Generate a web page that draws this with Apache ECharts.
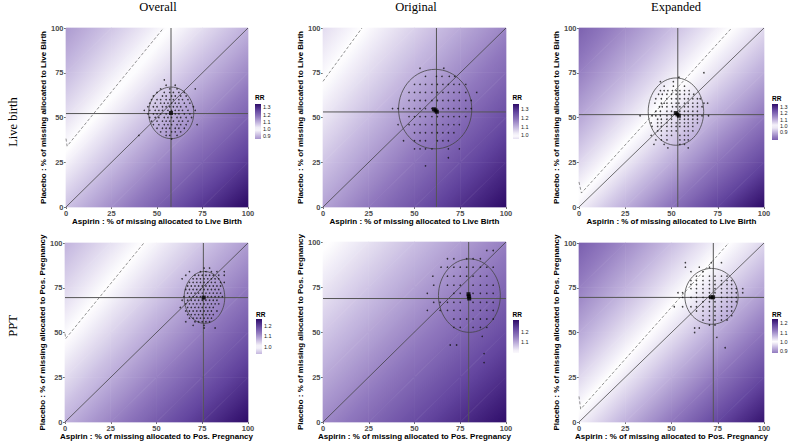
<!DOCTYPE html>
<html><head><meta charset="utf-8">
<script src="https://cdn.jsdelivr.net/npm/echarts@6/dist/echarts.min.js"></script>
<style>html,body{margin:0;padding:0;background:#fff}#c{width:789px;height:441px}</style>
</head><body><div id="c"></div>
<script>
// ---------------- DATA ----------------
const columnTitles = ['Overall', 'Original', 'Expanded'];
const rowTitles = ['Live birth', 'PPT'];
const xAxisTitles = ['Aspirin : % of missing allocated to Live Birth', 'Aspirin : % of missing allocated to Pos. Pregnancy'];
const yAxisTitles = ['Placebo : % of missing allocated to Live Birth', 'Placebo : % of missing allocated to Pos. Pregnancy'];
const axisTickValues = [0, 25, 50, 75, 100];
const nodeCoords = [0, 25, 50, 75, 100]; // RR surface nodes (x and y)

// RR read at nodes: rows y = 0,25,50,75,100 ; columns x = 0,25,50,75,100
const rrOverallLB = [
  [1.074, 1.143, 1.212, 1.281, 1.350],
  [1.015, 1.081, 1.147, 1.211, 1.276],
  [0.963, 1.025, 1.087, 1.149, 1.210],
  [0.916, 0.975, 1.033, 1.092, 1.151],
  [0.873, 0.929, 0.985, 1.041, 1.097]];
const rrOriginalLB = [
  [1.119, 1.179, 1.238, 1.298, 1.357],
  [1.073, 1.130, 1.188, 1.245, 1.302],
  [1.031, 1.086, 1.141, 1.196, 1.251],
  [0.992, 1.045, 1.098, 1.151, 1.204],
  [0.956, 1.007, 1.058, 1.109, 1.160]];
const rrExpandedLB = [
  [1.018, 1.101, 1.184, 1.267, 1.350],
  [0.949, 1.026, 1.103, 1.181, 1.258],
  [0.889, 0.961, 1.033, 1.106, 1.178],
  [0.835, 0.903, 0.971, 1.039, 1.107],
  [0.788, 0.852, 0.916, 0.981, 1.045]];
const rrOverallPPT = [
  [1.073, 1.122, 1.171, 1.219, 1.268],
  [1.033, 1.079, 1.126, 1.173, 1.220],
  [0.995, 1.040, 1.085, 1.130, 1.176],
  [0.960, 1.004, 1.047, 1.091, 1.134],
  [0.928, 0.970, 1.012, 1.054, 1.096]];
const rrOriginalPPT = [
  [1.140, 1.185, 1.230, 1.275, 1.320],
  [1.100, 1.143, 1.187, 1.230, 1.274],
  [1.063, 1.104, 1.146, 1.188, 1.230],
  [1.028, 1.068, 1.109, 1.149, 1.190],
  [0.995, 1.034, 1.074, 1.113, 1.152]];
const rrExpandedPPT = [
  [1.012, 1.069, 1.125, 1.182, 1.238],
  [0.965, 1.019, 1.073, 1.127, 1.181],
  [0.922, 0.974, 1.025, 1.077, 1.128],
  [0.883, 0.932, 0.982, 1.031, 1.080],
  [0.847, 0.894, 0.942, 0.989, 1.036]];

// legend (colour bar) ranges and labelled ticks
const legendRangeOverallLB = [0.865, 1.345];
const legendRangeOriginalLB = [0.96, 1.356];
const legendRangeExpandedLB = [0.78, 1.35];
const legendRangeOverallPPT = [0.93, 1.268];
const legendRangeOriginalPPT = [0.993, 1.323];
const legendRangeExpandedPPT = [0.878, 1.247];
const legendTicksOverallLB = [0.9, 1.0, 1.1, 1.2, 1.3];
const legendTicksOriginalLB = [1.0, 1.1, 1.2, 1.3];
const legendTicksExpandedLB = [0.9, 1.0, 1.1, 1.2, 1.3];
const legendTicksOverallPPT = [1.0, 1.1, 1.2];
const legendTicksOriginalPPT = [1.1, 1.2];
const legendTicksExpandedPPT = [0.9, 1.0, 1.1, 1.2];

// RR = 1 contour (dashed)
const contourOverallLB = [[0, 38.2], [0.6, 34], [53.6, 100]];
const contourOriginalLB = [[0, 70.2], [21.3, 100]];
const contourExpandedLB = [[0, 14], [1.3, 7.8], [82.5, 100]];
const contourOverallPPT = [[0, 49.4], [0.4, 46.6], [43.1, 100]];
const contourOriginalPPT = [];
const contourExpandedPPT = [[0, 14.3], [0.9, 7.2], [80.9, 100]];

// crosshair [x, y]
const crossOverallLB = [57.7, 52.2];
const crossOriginalLB = [62, 53.1];
const crossExpandedLB = [53.4, 51.6];
const crossOverallPPT = [75.6, 69.5];
const crossOriginalPPT = [79.6, 68.6];
const crossExpandedPPT = [72.6, 69.6];

// ellipse [cx, cy, rx, ry]
const ellipseOverallLB = [57.8, 52.6, 12.4, 14.4];
const ellipseOriginalLB = [61.3, 54.7, 20, 22.2];
const ellipseExpandedLB = [52.4, 53.3, 15, 18.8];
const ellipseOverallPPT = [76.2, 69.6, 11.1, 14.5];
const ellipseOriginalPPT = [80, 70.2, 16.9, 20.4];
const ellipseExpandedPPT = [71.6, 70.2, 14.4, 15.6];

// point estimates (big black points)
const centerOverallLB = [[57.7, 52.5]];
const centerOriginalLB = [[60.6, 54.6], [61.5, 54], [62.2, 53.2]];
const centerExpandedLB = [[52.3, 52.5], [53.2, 51.7], [54, 51]];
const centerOverallPPT = [[75.8, 69.5]];
const centerOriginalPPT = [[79.5, 71], [79.7, 69.8], [79.9, 68.6]];
const centerExpandedPPT = [[71.3, 69.7], [72.5, 69.7]];

// imputation points: [y, [x values]]
const ptsOverallLB = [
  [71, [54]],
  [68, [55, 60]],
  [66, [52, 57, 61, 71]],
  [64, [50, 54, 57, 59, 62, 65]],
  [62, [48, 53, 55, 58, 60, 63, 66]],
  [60, [47, 50, 52, 55, 57, 59, 62, 64, 67]],
  [58, [46, 49, 52, 54, 56, 58, 60, 62, 65, 68]],
  [56, [45, 48, 50, 53, 55, 57, 59, 61, 63, 66, 70]],
  [54, [43, 46, 49, 51, 53, 56, 58, 60, 62, 64, 67, 71]],
  [52, [45, 48, 50, 52, 55, 60, 62, 65, 68]],
  [50, [46, 49, 51, 54, 56, 58, 61, 63, 66, 69]],
  [48, [47, 50, 53, 55, 57, 59, 62, 64, 67]],
  [46, [48, 51, 54, 56, 58, 61, 63, 66, 72]],
  [44, [50, 53, 55, 57, 60, 62, 65]],
  [42, [52, 55, 58, 60, 63]],
  [40, [40, 55, 57, 61]],
  [38, [58]]];
const ptsOriginalLB = [
  [77.5, [53, 66]],
  [73, [56, 62, 65, 69, 72]],
  [68.5, [50, 53, 56, 59.5, 62.5, 65.5, 68.5, 71.5, 74.5, 78]],
  [64, [47, 50, 53, 56, 59.5, 62.5, 65.5, 68.5, 71.5, 74.5, 78, 84]],
  [59.5, [47, 50, 53, 56, 59.5, 62.5, 65.5, 68.5, 71.5, 74.5, 78, 81]],
  [55, [38, 41, 44, 47, 50, 53, 56, 59.5, 65.5, 68.5, 71.5, 74.5, 78, 81]],
  [50.5, [47, 50, 53, 56, 59.5, 62.5, 65.5, 68.5, 71.5, 74.5, 78]],
  [46, [41, 47, 50, 53, 56, 59.5, 62.5, 65.5, 68.5, 71.5, 74.5]],
  [41.5, [50, 53, 56, 59.5, 62.5, 65.5, 68.5, 71.5]],
  [37, [44, 50, 53, 56, 62.5, 65.5, 68.5]],
  [32.5, [50, 53, 56, 59.5, 68.5, 74.5]],
  [27.5, [68.5]],
  [23, [56]]];
const ptsExpandedLB = [
  [75, [67.5]],
  [72.5, [54]],
  [70, [44, 51]],
  [67.5, [46, 51, 57]],
  [65, [44, 46, 48, 50.5, 52.5, 54.5, 57, 59.5]],
  [63, [43, 45, 47.5, 50, 52.5, 54.5, 57, 59.5, 62]],
  [60.5, [41.5, 44.5, 47.5, 50, 52.5, 54.5, 57, 59, 61.5, 64, 65.5]],
  [58, [41, 44.5, 46, 47.5, 50, 52.5, 54, 57, 59, 61.5, 64, 67.5, 69.5]],
  [56, [43.5, 45, 47.5, 50.5, 52.5, 54.5, 57, 59, 61.5, 64, 66.5]],
  [53.5, [41.5, 44, 47.5, 50, 54.5, 57, 59, 61.5, 64]],
  [51, [33, 39.5, 41.5, 44, 47.5, 50, 57, 59, 61.5, 64, 66.5, 70]],
  [49, [42.5, 44.5, 47.5, 50, 54.5, 57, 59, 61.5, 64]],
  [47, [39, 42.5, 44.5, 47.5, 50, 52.5, 54.5, 57, 59, 61.5, 64]],
  [45, [39.5, 42.5, 44.5, 47.5, 50, 52.5, 54.5, 57, 59, 61.5]],
  [42.5, [42.5, 44.5, 47.5, 50, 52.5, 57, 59, 61.5]],
  [40, [39, 44.5, 47.5, 50, 54.5, 57, 59]],
  [37.5, [41.5, 44.5, 47.5, 54.5, 57, 59]],
  [35, [40.5, 46, 54.5, 57]],
  [33, [48, 59]]];
const ptsOverallPPT = [
  [86, [76, 79]],
  [84, [68, 74, 77, 80, 83, 87]],
  [82, [66, 71, 73, 75, 77, 79, 81, 84, 87]],
  [80, [64, 70, 72, 74, 76, 78, 80, 82, 84]],
  [78, [68, 70, 72, 74, 76, 78, 80, 82, 85, 87]],
  [76, [67, 69, 71, 73, 75, 77, 79, 81, 83, 85]],
  [74, [66, 68, 70, 72, 74, 76, 78, 80, 82, 84]],
  [72, [67, 69, 71, 73, 75, 77, 79, 81, 83, 85]],
  [70, [65, 68, 70, 72, 74, 78, 80, 82, 84, 86]],
  [68, [64, 67, 69, 71, 73, 75, 77, 79, 81, 83]],
  [66, [66, 68, 70, 72, 74, 76, 78, 80, 82, 84]],
  [64, [63, 67, 69, 71, 73, 75, 77, 79, 81]],
  [62, [66, 68, 70, 72, 74, 76, 78, 80, 83]],
  [60, [67, 69, 71, 73, 75, 77, 79, 81]],
  [58, [68, 70, 72, 74, 76, 78, 80]],
  [56, [66, 71, 73, 75, 77, 79]],
  [54, [70, 76]],
  [52.5, [76, 82]]];
const ptsOriginalPPT = [
  [95.3, [89.5, 93]],
  [90.7, [68, 71.5, 78.5, 82, 86]],
  [86, [64.5, 68, 71.5, 75, 78.5, 82, 86, 89.5, 93]],
  [81, [60, 68, 71.5, 75, 78.5, 82, 86, 89.5]],
  [76, [60.5, 68, 71.5, 75, 82, 86, 89.5, 93]],
  [71.5, [57, 71.5, 75, 82, 86, 89.5, 93]],
  [66.5, [60.5, 64, 68, 71.5, 75, 82, 86, 89.5, 93]],
  [62, [57, 64, 68, 71.5, 75, 82, 86, 89.5, 93]],
  [57.2, [71.5, 75, 78.5, 82, 86, 89.5, 93]],
  [52.6, [71.5, 75, 82, 86, 89.5]],
  [47.6, [87]],
  [42.8, [69.5, 73]],
  [38, [88]],
  [33, [88]]];
const ptsExpandedPPT = [
  [89, [57.5, 71.5, 77]],
  [86.5, [57.5, 65, 70.5]],
  [84, [60.5, 67]],
  [81.5, [63.5, 67, 70.5, 73.5, 77, 80]],
  [79, [60.5, 63.5, 67, 70.5, 73.5, 77, 80, 82.5]],
  [76.8, [60.5, 63.5, 67, 70.5, 73.5, 77, 80, 82.5]],
  [74.5, [60.5, 63.5, 67, 70.5, 73.5, 77, 80, 82.5, 85, 88.5]],
  [72.2, [53.5, 56, 63.5, 67, 70.5, 73.5, 77, 80, 82.5, 85, 88.5]],
  [69.6, [56, 60.5, 63.5, 67, 70.5, 77, 80, 82.5, 85]],
  [67.2, [63.5, 67, 70.5, 73.5, 77, 80, 82.5, 85]],
  [64.4, [51.5, 56, 60.5, 63.5, 67, 70.5, 73.5, 77, 80, 82.5]],
  [62, [63.5, 67, 70.5, 73.5, 77, 80, 82.5]],
  [59.4, [67, 70.5, 73.5, 77, 80, 82.5]],
  [57, [67, 70.5, 73.5, 77, 80]],
  [54.2, [70.5, 73.5]],
  [52.5, [62.5, 65]],
  [50, [62.5]],
  [47.3, [74.5]],
  [41.5, [79]]];

// ---------------- PANEL ASSEMBLY ----------------
const panelData = [
  {rr: rrOverallLB, range: legendRangeOverallLB, ticks: legendTicksOverallLB, contour: contourOverallLB, cross: crossOverallLB, ellipse: ellipseOverallLB, center: centerOverallLB, pts: ptsOverallLB},
  {rr: rrOriginalLB, range: legendRangeOriginalLB, ticks: legendTicksOriginalLB, contour: contourOriginalLB, cross: crossOriginalLB, ellipse: ellipseOriginalLB, center: centerOriginalLB, pts: ptsOriginalLB},
  {rr: rrExpandedLB, range: legendRangeExpandedLB, ticks: legendTicksExpandedLB, contour: contourExpandedLB, cross: crossExpandedLB, ellipse: ellipseExpandedLB, center: centerExpandedLB, pts: ptsExpandedLB},
  {rr: rrOverallPPT, range: legendRangeOverallPPT, ticks: legendTicksOverallPPT, contour: contourOverallPPT, cross: crossOverallPPT, ellipse: ellipseOverallPPT, center: centerOverallPPT, pts: ptsOverallPPT},
  {rr: rrOriginalPPT, range: legendRangeOriginalPPT, ticks: legendTicksOriginalPPT, contour: contourOriginalPPT, cross: crossOriginalPPT, ellipse: ellipseOriginalPPT, center: centerOriginalPPT, pts: ptsOriginalPPT},
  {rr: rrExpandedPPT, range: legendRangeExpandedPPT, ticks: legendTicksExpandedPPT, contour: contourExpandedPPT, cross: crossExpandedPPT, ellipse: ellipseExpandedPPT, center: centerExpandedPPT, pts: ptsExpandedPPT}
];

// ---------------- LAYOUT ----------------
const panelGrids = [
  {left: 66, top: 28, width: 182, height: 179},
  {left: 323, top: 28, width: 183, height: 179},
  {left: 579, top: 28, width: 185, height: 179},
  {left: 65, top: 243, width: 183, height: 179},
  {left: 323, top: 242, width: 183, height: 180},
  {left: 579, top: 243, width: 185, height: 179}];
const legendGrids = [
  {left: 255, top: 104, width: 6, height: 35},
  {left: 513, top: 104, width: 6, height: 35},
  {left: 772, top: 104, width: 6, height: 36},
  {left: 256, top: 319, width: 6, height: 35},
  {left: 513, top: 320, width: 6, height: 33},
  {left: 772, top: 319, width: 6, height: 34}];
const legendTitlePos = [[255, 97.7], [512.5, 97.7], [772, 98], [256, 314.3], [512.5, 314.3], [772, 314.3]];
const colTitlePos = [[158, 7], [416, 7], [676, 7]];
const rowTitlePos = [[13, 122], [13, 326]];

// colour scale: white at RR = 1, purple away from 1 (symmetric around midpoint)
const palette = [[0, [255, 255, 255]], [0.25, [198, 185, 224]], [0.5, [144, 120, 190]], [0.75, [98, 68, 158]], [1, [46, 12, 104]]];
function rrColor(v, dev) {
  const t = Math.min(1, Math.abs(v - 1) / dev);
  for (let k = 1; k < palette.length; k++) {
    if (t <= palette[k][0]) {
      const a = palette[k - 1], b = palette[k];
      const f = (t - a[0]) / (b[0] - a[0]);
      const c = a[1].map((x, i) => Math.round(x + (b[1][i] - x) * f));
      return 'rgb(' + c.join(',') + ')';
    }
  }
  return 'rgb(' + palette[palette.length - 1][1].join(',') + ')';
}

const grids = [], xAxes = [], yAxes = [], series = [], graphics = [];
const tickFont = {fontSize: 7.5, fontWeight: 'bold', color: '#4d4d4d', fontFamily: 'Liberation Sans'};
const nameFont = {fontSize: 8, fontWeight: 'bold', color: '#000', fontFamily: 'Liberation Sans'};

panelData.forEach((pd, p) => {
  const row = Math.floor(p / 3);
  const gi = 2 * p, li = 2 * p + 1;
  grids.push(Object.assign({outerBoundsMode: 'none', containLabel: false}, panelGrids[p]));
  xAxes.push({
    gridIndex: gi, type: 'value', min: 0, max: 100, interval: 25,
    axisLine: {show: false}, splitLine: {show: false},
    axisTick: {show: true, length: 2, lineStyle: {color: '#4d4d4d', width: 0.8}},
    axisLabel: Object.assign({margin: 2, showMinLabel: true, showMaxLabel: true, hideOverlap: false}, tickFont),
    name: xAxisTitles[row], nameLocation: 'middle', nameGap: 10, nameTextStyle: nameFont
  });
  yAxes.push({
    gridIndex: gi, type: 'value', min: 0, max: 100, interval: 25,
    axisLine: {show: false}, splitLine: {show: false},
    axisTick: {show: true, length: 2, lineStyle: {color: '#4d4d4d', width: 0.8}},
    axisLabel: Object.assign({margin: 2.5, showMinLabel: true, showMaxLabel: true, hideOverlap: false}, tickFont),
    name: yAxisTitles[row], nameLocation: 'middle', nameGap: 12, nameTextStyle: nameFont
  });
  const dev = Math.max(pd.range[1] - 1, 1 - pd.range[0]);

  // surface triangles from node grid
  const tris = [];
  for (let j = 0; j < nodeCoords.length - 1; j++) {
    for (let i = 0; i < nodeCoords.length - 1; i++) {
      const x0 = nodeCoords[i], x1 = nodeCoords[i + 1], y0 = nodeCoords[j], y1 = nodeCoords[j + 1];
      tris.push([x0, y0, pd.rr[j][i], x1, y0, pd.rr[j][i + 1], x1, y1, pd.rr[j + 1][i + 1]]);
      tris.push([x0, y0, pd.rr[j][i], x1, y1, pd.rr[j + 1][i + 1], x0, y1, pd.rr[j + 1][i]]);
    }
  }
  series.push({
    type: 'custom', xAxisIndex: gi, yAxisIndex: gi, z: 1, silent: true, data: tris,
    renderItem: function (params, api) {
      const P = [0, 1, 2].map(k => api.coord([api.value(3 * k), api.value(3 * k + 1)]));
      const V = [0, 1, 2].map(k => api.value(3 * k + 2));
      const ax = P[1][0] - P[0][0], ay = P[1][1] - P[0][1];
      const bx = P[2][0] - P[0][0], by = P[2][1] - P[0][1];
      const d1 = V[1] - V[0], d2 = V[2] - V[0];
      const det = ax * by - ay * bx;
      const gx = (d1 * by - ay * d2) / det, gy = (ax * d2 - bx * d1) / det;
      const g2 = gx * gx + gy * gy;
      const vmin = Math.min.apply(null, V), vmax = Math.max.apply(null, V);
      let fill;
      if (!isFinite(g2) || g2 < 1e-14 || vmax - vmin < 1e-6) {
        fill = rrColor(V[0], dev);
      } else {
        const ux = gx / g2, uy = gy / g2;
        const sx = P[0][0] + (vmin - V[0]) * ux, sy = P[0][1] + (vmin - V[0]) * uy;
        const ex = P[0][0] + (vmax - V[0]) * ux, ey = P[0][1] + (vmax - V[0]) * uy;
        const stops = [];
        const n = 8;
        for (let k = 0; k <= n; k++) stops.push({offset: k / n, color: rrColor(vmin + (vmax - vmin) * k / n, dev)});
        fill = new echarts.graphic.LinearGradient(sx, sy, ex, ey, stops, true);
      }
      return {type: 'polygon', shape: {points: P}, style: {fill: fill, stroke: fill, lineWidth: 0.7}};
    }
  });
  // RR = 1 contour
  if (pd.contour.length) {
    series.push({type: 'line', xAxisIndex: gi, yAxisIndex: gi, z: 3, silent: true, symbol: 'none', data: pd.contour,
      lineStyle: {color: '#4a4a4a', width: 0.6, type: [3, 2]}});
  }
  // diagonal
  series.push({type: 'line', xAxisIndex: gi, yAxisIndex: gi, z: 3, silent: true, symbol: 'none', data: [[0, 0], [100, 100]],
    lineStyle: {color: '#333', width: 0.7}});
  // crosshair
  series.push({type: 'line', xAxisIndex: gi, yAxisIndex: gi, z: 3, silent: true, symbol: 'none', data: [[pd.cross[0], 0], [pd.cross[0], 100]],
    lineStyle: {color: '#555', width: 1}});
  series.push({type: 'line', xAxisIndex: gi, yAxisIndex: gi, z: 3, silent: true, symbol: 'none', data: [[0, pd.cross[1]], [100, pd.cross[1]]],
    lineStyle: {color: '#555', width: 1}});
  // ellipse
  series.push({
    type: 'custom', xAxisIndex: gi, yAxisIndex: gi, z: 4, silent: true, data: [pd.ellipse],
    renderItem: function (params, api) {
      const c = api.coord([api.value(0), api.value(1)]);
      const s = api.size([api.value(2), api.value(3)]);
      const rx = s[0], ry = s[1], k = 0.5523, cx = c[0], cy = c[1];
      const d = 'M' + (cx + rx) + ',' + cy +
        'C' + (cx + rx) + ',' + (cy + k * ry) + ' ' + (cx + k * rx) + ',' + (cy + ry) + ' ' + cx + ',' + (cy + ry) +
        'C' + (cx - k * rx) + ',' + (cy + ry) + ' ' + (cx - rx) + ',' + (cy + k * ry) + ' ' + (cx - rx) + ',' + cy +
        'C' + (cx - rx) + ',' + (cy - k * ry) + ' ' + (cx - k * rx) + ',' + (cy - ry) + ' ' + cx + ',' + (cy - ry) +
        'C' + (cx + k * rx) + ',' + (cy - ry) + ' ' + (cx + rx) + ',' + (cy - k * ry) + ' ' + (cx + rx) + ',' + cy + 'Z';
      return {type: 'path', shape: {pathData: d}, style: {fill: 'none', stroke: '#444', lineWidth: 0.8}};
    }
  });
  // points
  const pts = [];
  pd.pts.forEach(r => r[1].forEach(x => pts.push([x, r[0]])));
  series.push({type: 'scatter', xAxisIndex: gi, yAxisIndex: gi, z: 5, silent: true, data: pts,
    symbol: 'circle', symbolSize: 1.6, itemStyle: {color: '#111'}});
  series.push({type: 'scatter', xAxisIndex: gi, yAxisIndex: gi, z: 6, silent: true, data: pd.center,
    symbol: 'rect', symbolSize: 4, itemStyle: {color: '#000'}});

  // legend colour bar
  grids.push(Object.assign({outerBoundsMode: 'none', containLabel: false}, legendGrids[p]));
  xAxes.push({gridIndex: li, type: 'value', min: 0, max: 1, show: false});
  yAxes.push({
    gridIndex: li, type: 'value', min: pd.range[0], max: pd.range[1], position: 'right',
    axisLine: {show: false}, splitLine: {show: false},
    axisTick: {show: true, inside: true, length: 1.5, customValues: pd.ticks, lineStyle: {color: '#fff', width: 0.6}},
    axisLabel: {show: true, customValues: pd.ticks, formatter: v => v.toFixed(1), fontSize: 5.5, margin: 2,
      color: '#222', fontFamily: 'Liberation Sans', hideOverlap: false}
  });
  series.push({
    type: 'custom', xAxisIndex: li, yAxisIndex: li, silent: true, data: [[0, pd.range[0], 1, pd.range[1]]],
    renderItem: function (params, api) {
      const a = api.coord([api.value(0), api.value(3)]);
      const b = api.coord([api.value(2), api.value(1)]);
      const lo = api.value(1), hi = api.value(3);
      const stops = [];
      const n = 12;
      for (let k = 0; k <= n; k++) stops.push({offset: k / n, color: rrColor(hi - (hi - lo) * k / n, dev)});
      return {type: 'rect', shape: {x: a[0], y: a[1], width: b[0] - a[0], height: b[1] - a[1]},
        style: {fill: new echarts.graphic.LinearGradient(0, 0, 0, 1, stops)}};
    }
  });
  graphics.push({type: 'text', x: legendTitlePos[p][0], y: legendTitlePos[p][1],
    style: {text: 'RR', font: 'bold 6.5px "Liberation Sans"', fill: '#000', textAlign: 'left', textVerticalAlign: 'middle', align: 'left', verticalAlign: 'middle'}});
});

columnTitles.forEach((t, i) => graphics.push({type: 'text', x: colTitlePos[i][0], y: colTitlePos[i][1],
  style: {text: t, font: '12.5px "Liberation Serif"', fill: '#000', textAlign: 'center', textVerticalAlign: 'middle', align: 'center', verticalAlign: 'middle'}}));
rowTitles.forEach((t, i) => graphics.push({type: 'text', x: rowTitlePos[i][0], y: rowTitlePos[i][1], rotation: Math.PI / 2,
  style: {text: t, font: '12.5px "Liberation Serif"', fill: '#000', textAlign: 'center', textVerticalAlign: 'middle', align: 'center', verticalAlign: 'middle'}}));

const chart = echarts.init(document.getElementById('c'), null, {renderer: 'svg', width: 789, height: 441});
chart.setOption({
  animation: false,
  backgroundColor: '#fff',
  grid: grids, xAxis: xAxes, yAxis: yAxes, series: series, graphic: graphics
});
</script></body></html>
